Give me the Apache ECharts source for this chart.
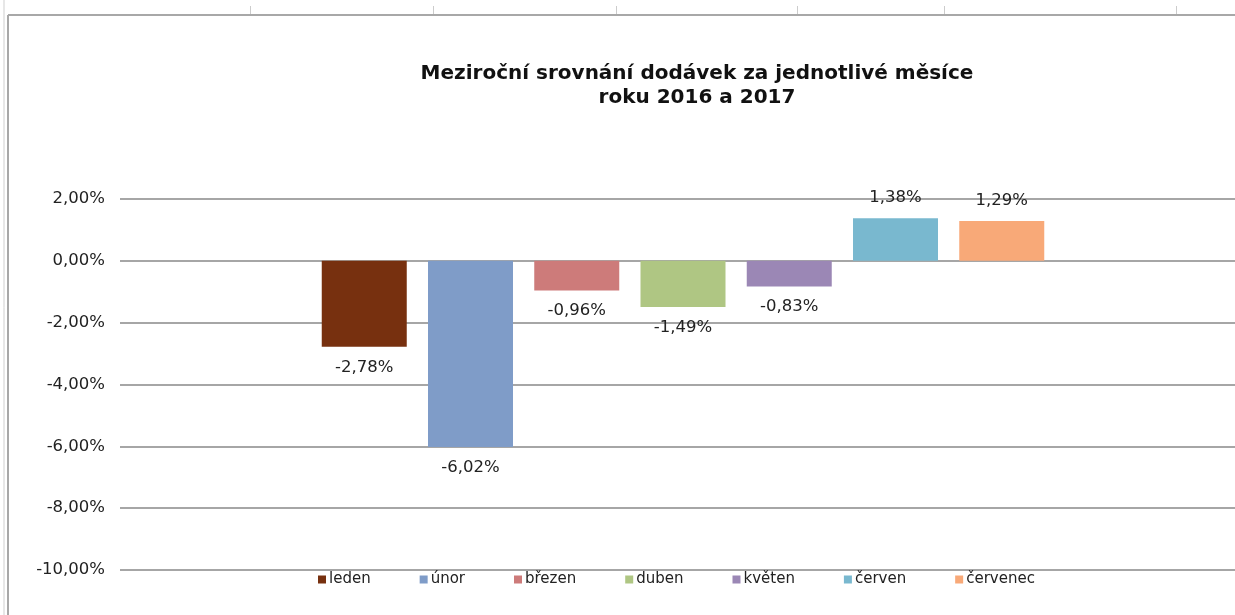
<!DOCTYPE html>
<html>
<head>
<meta charset="utf-8">
<script src="https://cdn.jsdelivr.net/npm/echarts@6/dist/echarts.min.js"></script>
<style>
html,body{margin:0;padding:0;background:#fff;overflow:hidden;width:1235px;height:615px;}
#chart{width:1246px;height:615px;}
</style>
</head>
<body>
<div id="chart"></div>
<script>
const titleLines = ['Meziroční srovnání dodávek za jednotlivé měsíce', 'roku 2016 a 2017'];
const months = ['leden', 'únor', 'březen', 'duben', 'květen', 'červen', 'červenec'];
const values = [-2.78, -6.02, -0.96, -1.49, -0.83, 1.38, 1.29];
const colors = ['#77300F', '#7F9CC8', '#CD7B7A', '#AFC683', '#9B87B5', '#79B8CF', '#F8A978'];
const category = [''];
const yMin = -10, yMax = 2, yStep = 2;

const fmt = v => v.toFixed(2).replace('.', ',') + '%';
const FONT = 'DejaVu Sans';

const series = months.map((m, i) => ({
  name: m,
  type: 'bar',
  barWidth: 85,
  barGap: '25%',
  itemStyle: { color: colors[i] },
  label: {
    show: true,
    position: values[i] < 0 ? 'bottom' : 'top',
    distance: 12,
    formatter: p => fmt(p.value),
    fontFamily: FONT, fontSize: 16.5, color: '#222'
  },
  data: [values[i]]
}));

const colTicks = [250, 433, 616, 797, 944, 1176];
const graphics = [
  { type: 'line', shape: { x1: 8, y1: 15, x2: 1246, y2: 15 }, style: { stroke: '#a8a8a8', lineWidth: 2 } },
  { type: 'line', shape: { x1: 8, y1: 15, x2: 8, y2: 615 }, style: { stroke: '#a8a8a8', lineWidth: 2 } },
  { type: 'line', shape: { x1: 4, y1: 0, x2: 4, y2: 615 }, style: { stroke: '#cfcfcf', lineWidth: 1 } }
].concat(colTicks.map(x => ({
  type: 'line', shape: { x1: x + 0.5, y1: 6, x2: x + 0.5, y2: 14 }, style: { stroke: '#cccccc', lineWidth: 1 }
})));

const chart = echarts.init(document.getElementById('chart'), null, { renderer: 'canvas' });
chart.setOption({
  animation: false,
  backgroundColor: '#fff',
  color: colors,
  title: {
    text: titleLines.join('\n'),
    left: 692, top: 57, textAlign: 'center',
    textStyle: { fontFamily: FONT, fontWeight: 'bold', fontSize: 20, lineHeight: 24, color: '#111' }
  },
  legend: {
    data: months,
    left: 313, top: 567,
    itemWidth: 8, itemHeight: 8, itemGap: 49,
    icon: 'rect',
    textStyle: { fontFamily: FONT, fontSize: 15, color: '#222', padding: [0, 0, 0, -2] }
  },
  grid: { left: 120, right: 0, top: 199, bottom: 45, containLabel: false },
  xAxis: {
    type: 'category', data: category,
    axisLine: { show: false }, axisTick: { show: false }, axisLabel: { show: false }
  },
  yAxis: {
    type: 'value', min: yMin, max: yMax, interval: yStep,
    axisLine: { show: false }, axisTick: { show: false },
    axisLabel: { formatter: v => fmt(v), fontFamily: FONT, fontSize: 16.5, color: '#222', margin: 15 },
    splitLine: { lineStyle: { color: '#a6a6a6', width: 2 } }
  },
  series: series,
  graphic: graphics
});
</script>
</body>
</html>
